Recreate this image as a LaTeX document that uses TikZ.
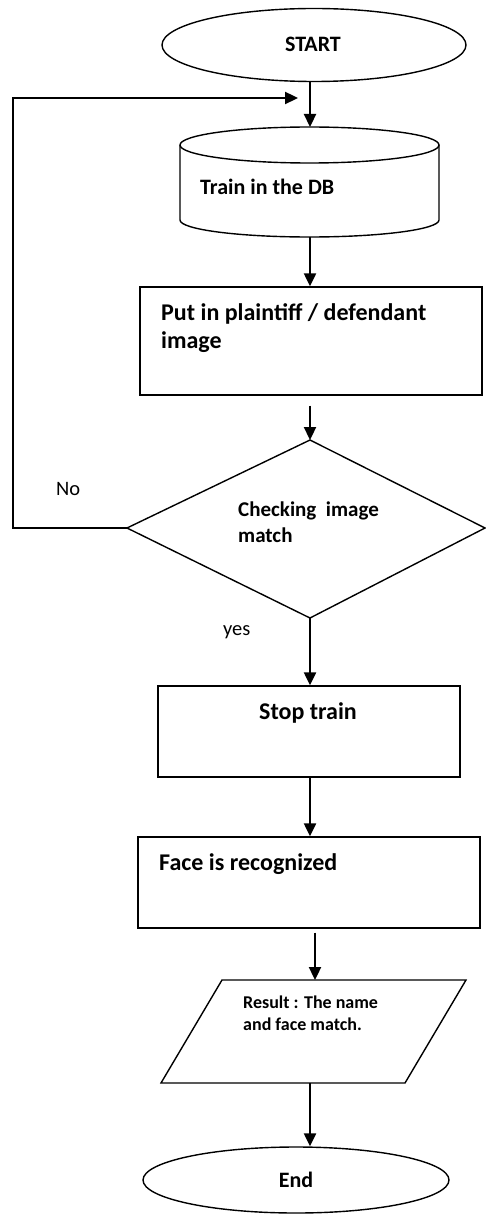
\documentclass[tikz,border=0pt]{standalone}
\usepackage{fontspec}
\setmainfont{Carlito}
\usetikzlibrary{arrows.meta,shapes.geometric}
\begin{document}
\begin{tikzpicture}[x=1pt,y=-1pt,line join=miter,
  box/.style={draw,line width=1.4pt},
  flow/.style={line width=2.3pt,-{Triangle[length=13pt,width=12pt]}},
  big/.style={font=\fontsize{24}{28}\selectfont\bfseries,anchor=base west,inner sep=0pt},
  dbtxt/.style={font=\fontsize{22}{26}\selectfont\bfseries,anchor=base west,inner sep=0pt},
  mid/.style={font=\fontsize{21}{25}\selectfont\bfseries,anchor=base west,inner sep=0pt},
  small/.style={font=\fontsize{18}{21}\selectfont\bfseries,anchor=base west,inner sep=0pt},
  plain/.style={font=\fontsize{20.5}{24}\selectfont,anchor=base west,inner sep=0pt},
  term/.style={font=\fontsize{22}{26}\selectfont\bfseries,anchor=base,inner sep=0pt}]
\path[use as bounding box] (0,0) rectangle (486,1214);

% terminals
\node[box,ellipse,minimum width=304pt,minimum height=73pt,inner sep=0pt] (start) at (314,45) {};
\node[term] at (313,52) {START};

% database cylinder
\coordinate (dbtop) at (310,127);
\coordinate (dbbot) at (310,237);
\draw[box] (309.5,145) ellipse [x radius=129.5, y radius=18];
\draw[box] (180,145) -- (180,220)
  arc[start angle=180,end angle=0,x radius=129.5,y radius=17] -- (439,145);
\node[dbtxt] at (200,195) {Train in the DB};

% input box
\node[box,rectangle,minimum width=342pt,minimum height=108pt,inner sep=0pt] (put) at (311,341) {};
\node[big] at (161,320) {Put in plaintiff / defendant};
\node[big] at (161,348) {image};

% decision
\coordinate (dtop) at (310,440);
\coordinate (dleft) at (127,528);
\coordinate (dright) at (485,528);
\coordinate (dbottom) at (310,618);
\draw[box] (dtop) -- (dright) -- (dbottom) -- (dleft) -- cycle;
\node[mid] at (238,516) {Checking\ \ image};
\node[mid] at (238,542) {match};
\node[plain] at (56,495) {No};
\node[plain] at (223,635) {yes};

% process boxes
\node[box,rectangle,minimum width=302pt,minimum height=91pt,inner sep=0pt] (stop) at (309,731.5) {};
\node[big] at (259,719) {Stop train};
\node[box,rectangle,minimum width=342pt,minimum height=91pt,inner sep=0pt] (face) at (309,882.5) {};
\node[big] at (159,870) {Face is recognized};

% output parallelogram
\coordinate (ptop) at (315,980);
\coordinate (pbot) at (310,1083);
\draw[box] (222,980) -- (466,980) -- (405,1083) -- (161,1083) -- cycle;
\node[small] at (243,1008) {Result : The name};
\node[small] at (243,1030) {and face match.};

\node[box,ellipse,minimum width=306pt,minimum height=66pt,inner sep=0pt] (end) at (296,1180) {};
\node[term] at (296,1187) {End};

% connectors
\draw[flow] (start.south -| dbtop) -- (dbtop);
\draw[flow] (dbbot) -- (put.north -| dbbot);
\draw[flow,shorten <=10pt] (put.south -| dtop) -- (dtop);
\draw[flow] (dbottom) -- (stop.north -| dbottom);
\draw[flow] (stop.south -| dbottom) -- (face.north -| dbottom);
\draw[flow,shorten <=4pt] (face.south -| ptop) -- (ptop);
\draw[flow] (pbot) -- (end.north -| pbot);
\coordinate (loopcorner) at (13,98);
\draw[flow,shorten >=12pt] (dleft) -- (dleft -| loopcorner) -- (loopcorner) -- (loopcorner -| dtop);
\end{tikzpicture}
\end{document}
